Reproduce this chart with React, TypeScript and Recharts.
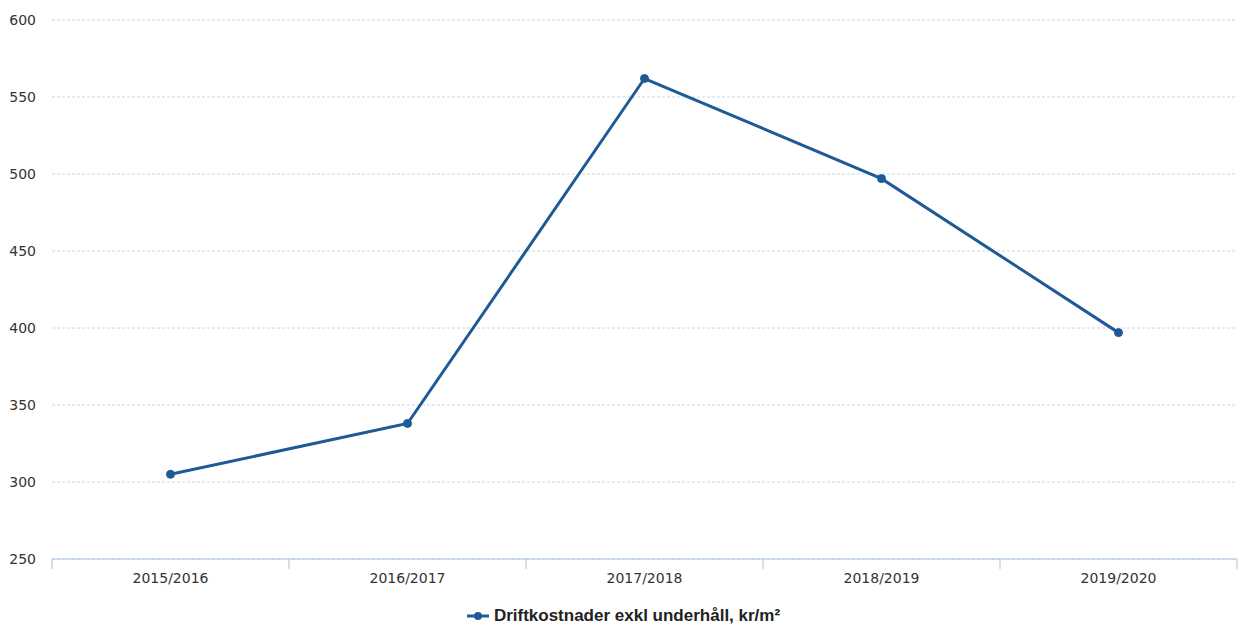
import { LineChart, Line, XAxis, YAxis, CartesianGrid, Legend } from "recharts";

const years = ["2015/2016", "2016/2017", "2017/2018", "2018/2019", "2019/2020"];
const driftValues = [305, 338, 562, 497, 397];
const yTicks = [250, 300, 350, 400, 450, 500, 550, 600];
const seriesName = "Driftkostnader exkl underhåll, kr/m²";

const data = years.map((year, i) => ({ year, value: driftValues[i] }));

const LINE_COLOR = "#1d5a96";
const GRID_COLOR = "#c9d6ec";
const AXIS_COLOR = "#a9c0e4";
const FONT = "'DejaVu Sans', Verdana, sans-serif";

// category label plus the tick marks at the band edges
function YearTick(props: any) {
  const { x, y, payload, index, visibleTicksCount } = props;
  const half = payload?.offset ?? 0;
  const isLast = index === visibleTicksCount - 1;
  return (
    <g>
      <line x1={x - half} x2={x - half} y1={y} y2={y + 10} stroke={AXIS_COLOR} />
      {isLast && <line x1={x + half} x2={x + half} y1={y} y2={y + 10} stroke={AXIS_COLOR} />}
      <text x={x} y={y + 24} textAnchor="middle" fill="#333" fontSize={14} fontFamily={FONT}>
        {payload.value}
      </text>
    </g>
  );
}

function LegendContent() {
  return (
    <div style={{ display: "flex", justifyContent: "center", alignItems: "center", gap: 5, paddingLeft: 10 }}>
      <svg width={22} height={10}>
        <line x1={0} y1={5} x2={22} y2={5} stroke={LINE_COLOR} strokeWidth={3} />
        <circle cx={11} cy={5} r={4} fill={LINE_COLOR} />
      </svg>
      <span style={{ fontFamily: "'Liberation Sans', Arial, sans-serif", fontWeight: 700, fontSize: 17, color: "#222" }}>
        {seriesName}
      </span>
    </div>
  );
}

export default function App() {
  return (
    <div style={{ position: "absolute", left: 0, top: 0, background: "#fff" }}>
      <LineChart width={1239} height={628} data={data} margin={{ top: 20, right: 2, left: 0, bottom: 0 }}>
        <CartesianGrid vertical={false} stroke={GRID_COLOR} strokeDasharray="3 2" />
        <XAxis
          dataKey="year"
          scale="band"
          height={47}
          axisLine={{ stroke: AXIS_COLOR }}
          tickLine={false}
          tickSize={0}
          tickMargin={0}
          interval={0}
          tick={<YearTick />}
        />
        <YAxis
          domain={[250, 600]}
          ticks={yTicks}
          width={52}
          axisLine={false}
          tickLine={false}
          tickMargin={10}
          tick={{ fill: "#333", fontSize: 14, fontFamily: FONT }}
        />
        <Legend verticalAlign="bottom" height={22} content={() => <LegendContent />} />
        <Line
          type="linear"
          dataKey="value"
          name={seriesName}
          stroke={LINE_COLOR}
          strokeWidth={3}
          dot={{ r: 4, fill: LINE_COLOR, stroke: LINE_COLOR, strokeWidth: 1 }}
          isAnimationActive={false}
        />
      </LineChart>
    </div>
  );
}
